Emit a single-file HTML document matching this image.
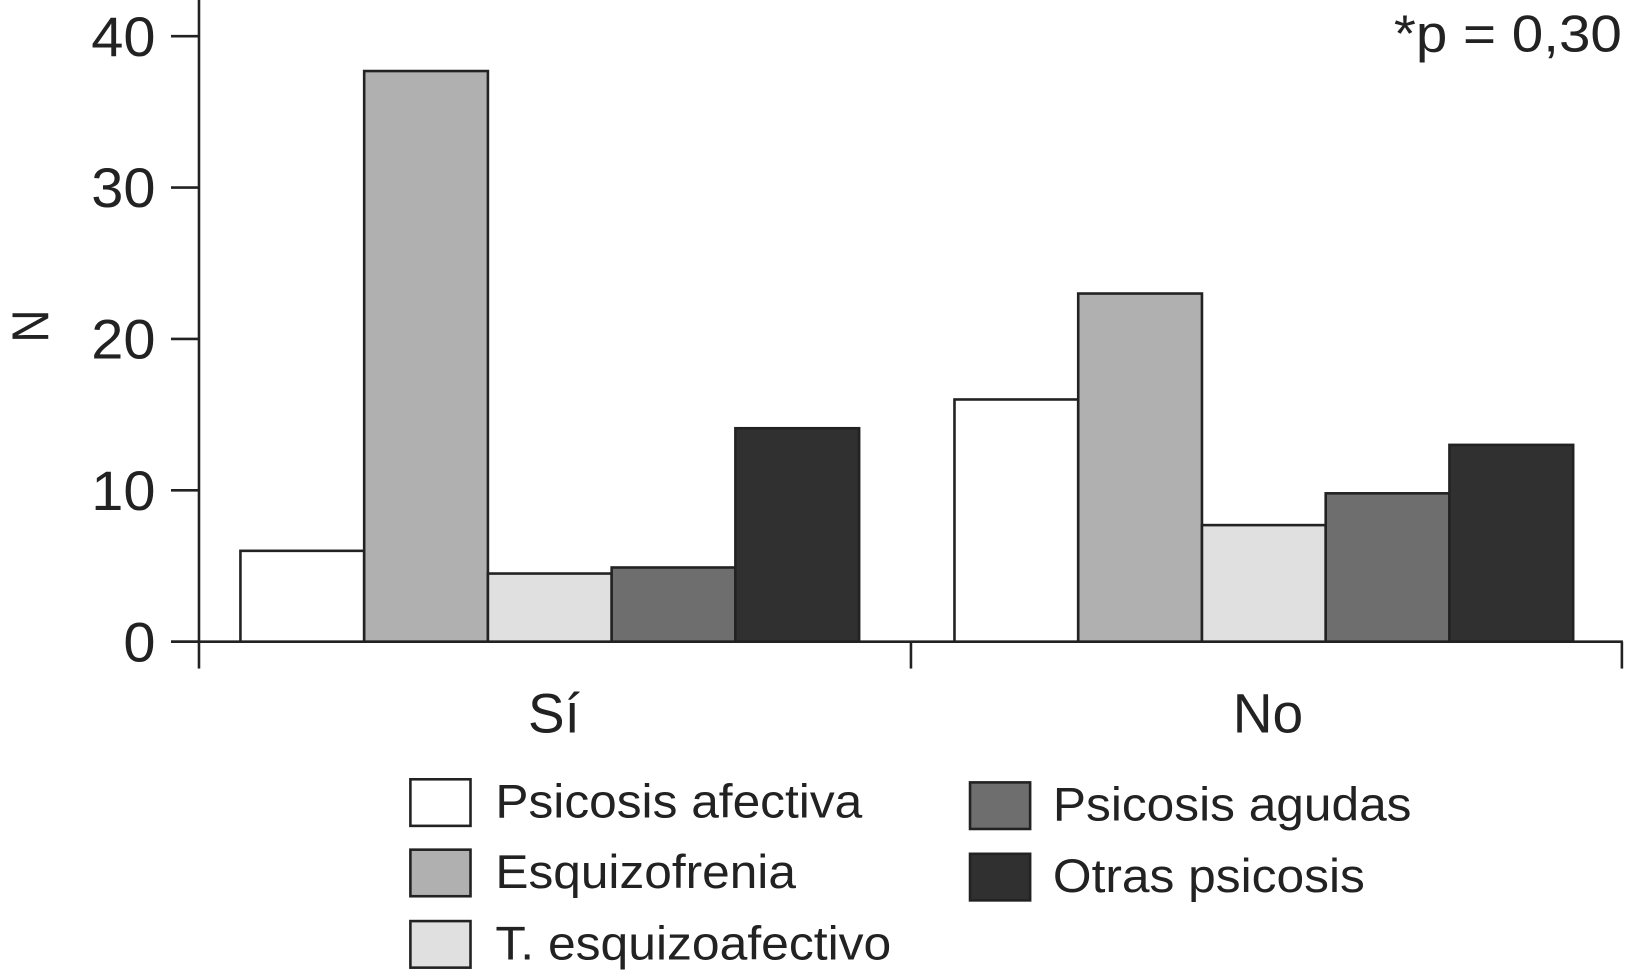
<!DOCTYPE html>
<html><head><meta charset="utf-8"><style>html,body{margin:0;padding:0;background:#fff}svg{display:block}text{font-family:"Liberation Sans",sans-serif;fill:#222}</style></head>
<body>
<svg width="1625" height="978" viewBox="0 0 1568 945" preserveAspectRatio="none" xmlns="http://www.w3.org/2000/svg">
<g id="axes"></g><g id="bars"></g><g id="legend"></g>
<text x="12" y="315" font-size="50" text-anchor="middle" transform="rotate(90 12 315)" textLength="32" lengthAdjust="spacingAndGlyphs">N</text>
<text x="1565" y="50" font-size="50" text-anchor="end" textLength="220" lengthAdjust="spacingAndGlyphs">*p = 0,30</text>
</svg>
<script>
const categories=["Sí","No"];
const series=["Psicosis afectiva","Esquizofrenia","T. esquizoafectivo","Psicosis agudas","Otras psicosis"];
const colors=["#ffffff","#b0b0b0","#e0e0e0","#6e6e6e","#303030"];
const valuesSi=[6,37.7,4.5,4.9,14.1];
const valuesNo=[16,23,7.7,9.8,13];
const yTicks=[0,10,20,30,40];
const NS="http://www.w3.org/2000/svg";
const y=v=>620-v*14.625;
function mk(t,a,p){const e=document.createElementNS(NS,t);for(const k in a)e.setAttribute(k,a[k]);p.appendChild(e);return e;}
const axes=document.getElementById('axes'),bars=document.getElementById('bars'),leg=document.getElementById('legend');
let e=mk('line',{x1:192,y1:0,x2:192,y2:620,stroke:'#222','stroke-width':2.5},axes);

e=mk('line',{x1:165,y1:620,x2:1566,y2:620,stroke:'#222','stroke-width':2.5},axes);

[192,879,1565].forEach(x=>{const t=mk('line',{x1:x,y1:620,x2:x,y2:646,stroke:'#222','stroke-width':2.5},axes);
});
yTicks.forEach(v=>{const t=mk('line',{x1:165,y1:y(v),x2:192,y2:y(v),stroke:'#222','stroke-width':2.5},axes);

const s=String(v);
const l=mk('text',{x:150,y:y(v)+19,'font-size':54,'text-anchor':'end',textLength:s.length*31,lengthAdjust:'spacingAndGlyphs'},axes);l.textContent=s;
});
const groupStart=[232,921],bw=119.4,catLen=[50,68];
[valuesSi,valuesNo].forEach((vals,g)=>{
 vals.forEach((v,i)=>{const r=mk('rect',{x:groupStart[g]+i*bw,y:y(v),width:bw,height:620-y(v),fill:colors[i],stroke:'#222','stroke-width':2.5},bars);
 });
 const l=mk('text',{x:groupStart[g]+bw*2.5+4,y:708,'font-size':54,'text-anchor':'middle',textLength:catLen[g],lengthAdjust:'spacingAndGlyphs'},bars);l.textContent=categories[g];
 
});
const legPos=[[396,753],[396,821],[396,890],[936,756],[936,825]];
const legLen=[354,290,382,346,301];
series.forEach((s,i)=>{const [lx,ly]=legPos[i];
 const r=mk('rect',{x:lx,y:ly,width:58,height:45,fill:colors[i],stroke:'#222','stroke-width':2.5},leg);
 
 const t=mk('text',{x:lx+(i<3?82:80),y:ly+37,'font-size':46,textLength:legLen[i],lengthAdjust:'spacingAndGlyphs'},leg);t.textContent=s;
 });
</script>
</body></html>
